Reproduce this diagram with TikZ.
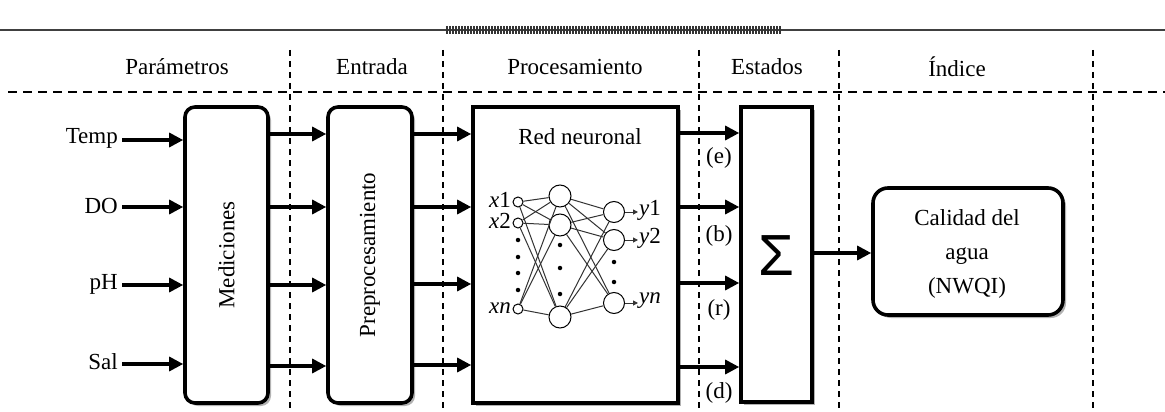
\documentclass[tikz,border=0pt]{standalone}
\usepackage{fontspec}
\setmainfont{Liberation Serif}
\newfontfamily\sigfont{Liberation Sans}
\usetikzlibrary{arrows.meta,shadows}
\begin{document}
\begin{tikzpicture}[x=1pt,y=-1pt,
  font=\fontsize{23}{27}\selectfont,
  hdash/.style={dash pattern=on 9pt off 6pt, line width=1.9pt},
  vdash/.style={dash pattern=on 6pt off 5pt, line width=1.7pt},
  arr/.style={line width=3.2pt, -{Triangle[length=14pt,width=14pt]}},
  shad/.style={drop shadow={shadow xshift=3pt, shadow yshift=-3pt, opacity=0.3, fill=black}},
  rbox/.style={draw, line width=3.6pt, rounded corners=10pt, fill=white, shad},
  sbox/.style={draw, line width=3.6pt, fill=white, shad},
  inn/.style={draw, circle, line width=1pt, minimum size=10pt, inner sep=0pt, fill=white},
  hid/.style={draw, circle, line width=1pt, minimum size=22pt, inner sep=0pt, fill=white},
  outn/.style={draw, circle, line width=1pt, minimum size=21pt, inner sep=0pt, fill=white},
  nnl/.style={line width=1pt, black!80},
  ndot/.style={circle, fill=black, inner sep=0pt, minimum size=4.5pt},
  lbl/.style={inner sep=1pt},
]
\useasboundingbox (0,0) rectangle (1165,412);
% top rule
\draw[line width=1.6pt, black!75] (0,30) -- (1165,30);
\foreach \i in {0,...,223} \draw[line width=0.5pt, black!80] (446+1.5*\i,26) -- ++(0,8);
% grid
\draw[hdash] (8,92) -- (1165,92);
\foreach \xx in {290,443,699,839,1093} \draw[vdash] (\xx,50) -- (\xx,412);
% headers
\node (h1) at (177,67) {Parámetros};
\node (h2) at (372,67) {Entrada};
\node (h3) at (575,67) {Procesamiento};
\node (h4) at (767,67) {Estados};
\node (h5) at (957,67) {Índice};
% boxes
\node[rbox, minimum width=83pt, minimum height=296pt] (med) at (226.5,255) {};
\node[rotate=90] (medt) at (med.center) {Mediciones};
\node[rbox, minimum width=84pt, minimum height=296pt] (prep) at (370,255) {};
\node[rotate=90] (prept) at (prep.center) {Preprocesamiento};
\node[sbox, minimum width=205pt, minimum height=296pt] (nn) at (575.5,255) {};
\node (nnt) at (580,137) {Red neuronal};
\node[sbox, minimum width=71pt, minimum height=295pt] (sig) at (776.5,254.5) {};
\node (sigt) at (776,256) {\sigfont\fontsize{58}{58}\selectfont Σ};
\node[rbox, rounded corners=15pt, minimum width=190pt, minimum height=127pt] (cal) at (968,251.5) {};
\node[align=center, font=\fontsize{23}{34}\selectfont] (calt) at (967,254) {Calidad del\\agua\\(NWQI)};
% inputs
\node[anchor=east, lbl] (i1) at (119,138) {Temp};
\node[anchor=east, lbl] (i2) at (119,206) {DO};
\node[anchor=east, lbl] (i3) at (119,284) {pH};
\node[anchor=east, lbl] (i4) at (119,362) {Sal};
\draw[arr] ([xshift=3pt]i1.east |- 0,140) -- (med.west |- 0,140);
\draw[arr] ([xshift=3pt]i2.east |- 0,207) -- (med.west |- 0,207);
\draw[arr] ([xshift=3pt]i3.east |- 0,285) -- (med.west |- 0,285);
\draw[arr] ([xshift=3pt]i4.east |- 0,364) -- (med.west |- 0,364);
% med -> prep
\foreach \yy in {134,207,285,366} \draw[arr] (med.east |- 0,\yy) -- (prep.west |- 0,\yy);
% prep -> nn
\foreach \yy in {134,207,284,365} \draw[arr] (prep.east |- 0,\yy) -- (nn.west |- 0,\yy);
% nn -> sig
\foreach \yy in {133,207,283,367} \draw[arr] (nn.east |- 0,\yy) -- (sig.west |- 0,\yy);
\node[lbl] (le) at (719,158) {(e)};
\node[lbl] (lb) at (719,236) {(b)};
\node[lbl] (lr) at (719,310) {(r)};
\node[lbl] (ld) at (719,393) {(d)};
% sig -> cal
\draw[arr] (sig.east |- 0,253) -- (cal.west |- 0,253);
% neural net
\node[inn] (x1) at (518,202) {};
\node[inn] (x2) at (518,223) {};
\node[inn] (xn) at (518,309) {};
\node[hid] (hA) at (560,196) {};
\node[hid] (hB) at (560,225) {};
\node[hid] (hC) at (560,317) {};
\node[outn] (o1) at (614,212) {};
\node[outn] (o2) at (614,240) {};
\node[outn] (on) at (614,303) {};
\foreach \a in {x1,x2,xn} \foreach \b in {hA,hB,hC} \draw[nnl] (\a) -- (\b);
\foreach \a in {hA,hB,hC} \foreach \b in {o1,o2,on} \draw[nnl] (\a) -- (\b);
\foreach \yy in {240,257,273,290} \node[ndot] at (518,\yy) {};
\foreach \yy in {245,268,294} \node[ndot] at (560,\yy) {};
\foreach \yy in {262,282} \node[ndot] at (614,\yy) {};
\node[anchor=east, inner sep=1pt] (lx1) at (512,200) {\textit{x}1};
\node[anchor=east, inner sep=1pt] (lx2) at (512,221) {\textit{x}2};
\node[anchor=east, inner sep=1pt] (lxn) at (512,308) {\textit{xn}};
\node[anchor=west, inner sep=1pt] (ly1) at (638,210) {\textit{y}1};
\node[anchor=west, inner sep=1pt] (ly2) at (638,238) {\textit{y}2};
\node[anchor=west, inner sep=1pt] (lyn) at (638,301) {\textit{yn}};
\draw[nnl, -{Triangle[length=5pt,width=5pt]}] (o1.east) -- (ly1.west |- o1.east);
\draw[nnl, -{Triangle[length=5pt,width=5pt]}] (o2.east) -- (ly2.west |- o2.east);
\draw[nnl, -{Triangle[length=5pt,width=5pt]}] (on.east) -- (lyn.west |- on.east);
\end{tikzpicture}
\end{document}
